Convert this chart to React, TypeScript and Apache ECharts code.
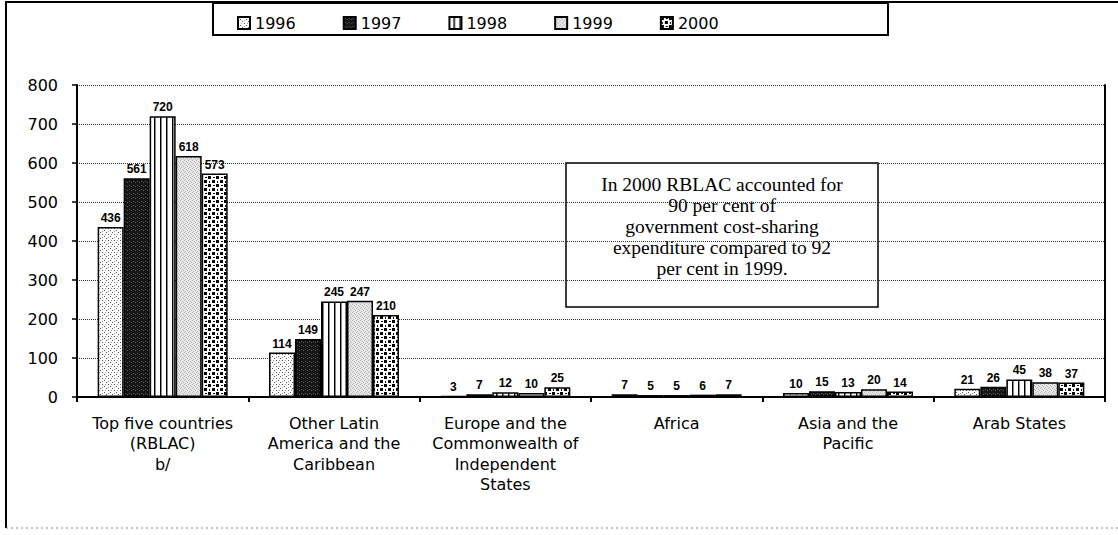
import React, { useEffect, useRef } from "react";
import * as echarts from "echarts";

const categories = [
  "Top five countries\n(RBLAC)\nb/",
  "Other Latin\nAmerica and the\nCaribbean",
  "Europe and the\nCommonwealth of\nIndependent\nStates",
  "Africa",
  "Asia and the\nPacific",
  "Arab States",
];
const years = ["1996", "1997", "1998", "1999", "2000"];
const v1996 = [436, 114, 3, 7, 10, 21];
const v1997 = [561, 149, 7, 5, 15, 26];
const v1998 = [720, 245, 12, 5, 13, 45];
const v1999 = [618, 247, 10, 6, 20, 38];
const v2000 = [573, 210, 25, 7, 14, 37];
const seriesValues = [v1996, v1997, v1998, v1999, v2000];
const yTicks = { min: 0, max: 800, interval: 100 };
const noteLines = [
  "In 2000 RBLAC accounted for",
  "90 per cent of",
  "government cost-sharing",
  "expenditure compared to 92",
  "per cent in 1999.",
];

function makePattern(kind: number) {
  const c = document.createElement("canvas");
  const ctx = c.getContext("2d")!;
  if (kind === 0) {
    c.width = 6; c.height = 6;
    ctx.fillStyle = "#fff"; ctx.fillRect(0, 0, 6, 6);
    ctx.fillStyle = "#555";
    ctx.fillRect(0, 0, 1, 1); ctx.fillRect(2, 2, 1, 1); ctx.fillRect(4, 4, 1, 1);
    ctx.fillStyle = "#999";
    ctx.fillRect(3, 0, 1, 1); ctx.fillRect(0, 3, 1, 1);
  } else if (kind === 1) {
    c.width = 4; c.height = 4;
    ctx.fillStyle = "#151515"; ctx.fillRect(0, 0, 4, 4);
    ctx.fillStyle = "#5a5a5a";
    ctx.fillRect(1, 1, 1, 1); ctx.fillRect(3, 2, 1, 1);
  } else if (kind === 2) {
    c.width = 6; c.height = 2;
    ctx.fillStyle = "#fff"; ctx.fillRect(0, 0, 6, 2);
    ctx.fillStyle = "#000"; ctx.fillRect(4, 0, 1, 2);
    ctx.fillStyle = "#888"; ctx.fillRect(5, 0, 1, 2);
  } else if (kind === 3) {
    c.width = 4; c.height = 4;
    ctx.fillStyle = "#e6e6e6"; ctx.fillRect(0, 0, 4, 4);
    ctx.fillStyle = "#b8b8b8";
    ctx.fillRect(0, 0, 1, 1); ctx.fillRect(2, 1, 1, 1); ctx.fillRect(1, 3, 1, 1); ctx.fillRect(3, 2, 1, 1);
  } else {
    c.width = 8; c.height = 8;
    ctx.fillStyle = "#fff"; ctx.fillRect(0, 0, 8, 8);
    ctx.fillStyle = "#000";
    ctx.fillRect(0, 0, 3, 3); ctx.fillRect(4, 4, 3, 3);
    ctx.fillRect(5, 1, 2, 1); ctx.fillRect(1, 5, 1, 2);
  }
  return { image: c, repeat: "repeat", imageWidth: c.width, imageHeight: c.height };
}

export default function App() {
  const ref = useRef<HTMLDivElement>(null);
  useEffect(() => {
    if (!ref.current) return;
    const chart = echarts.init(ref.current, null, { renderer: "svg" });
    const font = "'DejaVu Sans', Verdana, sans-serif";
    const labelFont = "'Liberation Sans', Arial, sans-serif";
    const series = years.map((y, i) => ({
      name: y,
      type: "bar",
      data: seriesValues[i],
      barWidth: 26,
      barGap: "0%",
      itemStyle: { color: makePattern(i) as any, borderColor: "#000", borderWidth: 1.5 },
      label: {
        show: true,
        position: "top",
        distance: 3,
        color: "#000",
        fontSize: 12,
        fontWeight: "bold",
        fontFamily: labelFont,
      },
    }));
    chart.setOption({
      animation: false,
      backgroundColor: "#fff",
      legend: {
        data: years,
        left: 232,
        top: 10,
        itemWidth: 12,
        itemHeight: 12,
        itemGap: 47,
        icon: "rect",
        textStyle: { color: "#000", fontSize: 16, fontFamily: font },
      },
      grid: { left: 77, right: 13, top: 85, bottom: 138 },
      xAxis: {
        type: "category",
        data: categories,
        axisLine: { lineStyle: { color: "#000", width: 2 } },
        axisTick: { show: true, length: 5, lineStyle: { color: "#000", width: 2 } },
        axisLabel: {
          color: "#000",
          fontSize: 16,
          fontFamily: font,
          lineHeight: 20.5,
          margin: 16,
          interval: 0,
        },
      },
      yAxis: [
        {
          type: "value",
          ...yTicks,
          axisLine: { show: true, lineStyle: { color: "#000", width: 2 } },
          axisTick: { show: true, length: 5, lineStyle: { color: "#000", width: 1.5 } },
          axisLabel: { color: "#000", fontSize: 16, fontFamily: font, margin: 19 },
          splitLine: { show: true, lineStyle: { color: "#333", type: "dotted", width: 1 } },
        },
        {
          type: "value",
          ...yTicks,
          position: "right",
          axisLine: { show: true, lineStyle: { color: "#000", width: 2 } },
          axisTick: { show: false },
          axisLabel: { show: false },
          splitLine: { show: false },
        },
      ],
      series,
      graphic: [
        {
          type: "line",
          shape: { x1: 5, y1: 2, x2: 1118, y2: 2 },
          style: { stroke: "#000", lineWidth: 2 },
          silent: true,
        },
        {
          type: "line",
          shape: { x1: 6, y1: 2, x2: 6, y2: 528 },
          style: { stroke: "#000", lineWidth: 2 },
          silent: true,
        },
        {
          type: "line",
          shape: { x1: 6, y1: 528, x2: 1118, y2: 528 },
          style: { stroke: "#888", lineWidth: 1, lineDash: [2, 3] },
          silent: true,
        },
        {
          type: "rect",
          shape: { x: 213, y: 3, width: 675, height: 32 },
          style: { fill: "none", stroke: "#000", lineWidth: 2 },
          silent: true,
        },
        {
          type: "rect",
          shape: { x: 566, y: 163, width: 312, height: 144 },
          style: { fill: "none", stroke: "#000", lineWidth: 1.5 },
          silent: true,
        },
        {
          type: "text",
          x: 722,
          y: 174,
          style: {
            text: noteLines.join("\n"),
            fill: "#000",
            font: "19.5px 'Liberation Serif', 'Times New Roman', serif",
            lineHeight: 21,
            textAlign: "center",
            textVerticalAlign: "top",
          },
          silent: true,
        },
      ],
    });
    return () => chart.dispose();
  }, []);
  return (
    <div
      ref={ref}
      style={{ position: "fixed", left: 0, top: 0, width: 1118, height: 535 }}
    />
  );
}
